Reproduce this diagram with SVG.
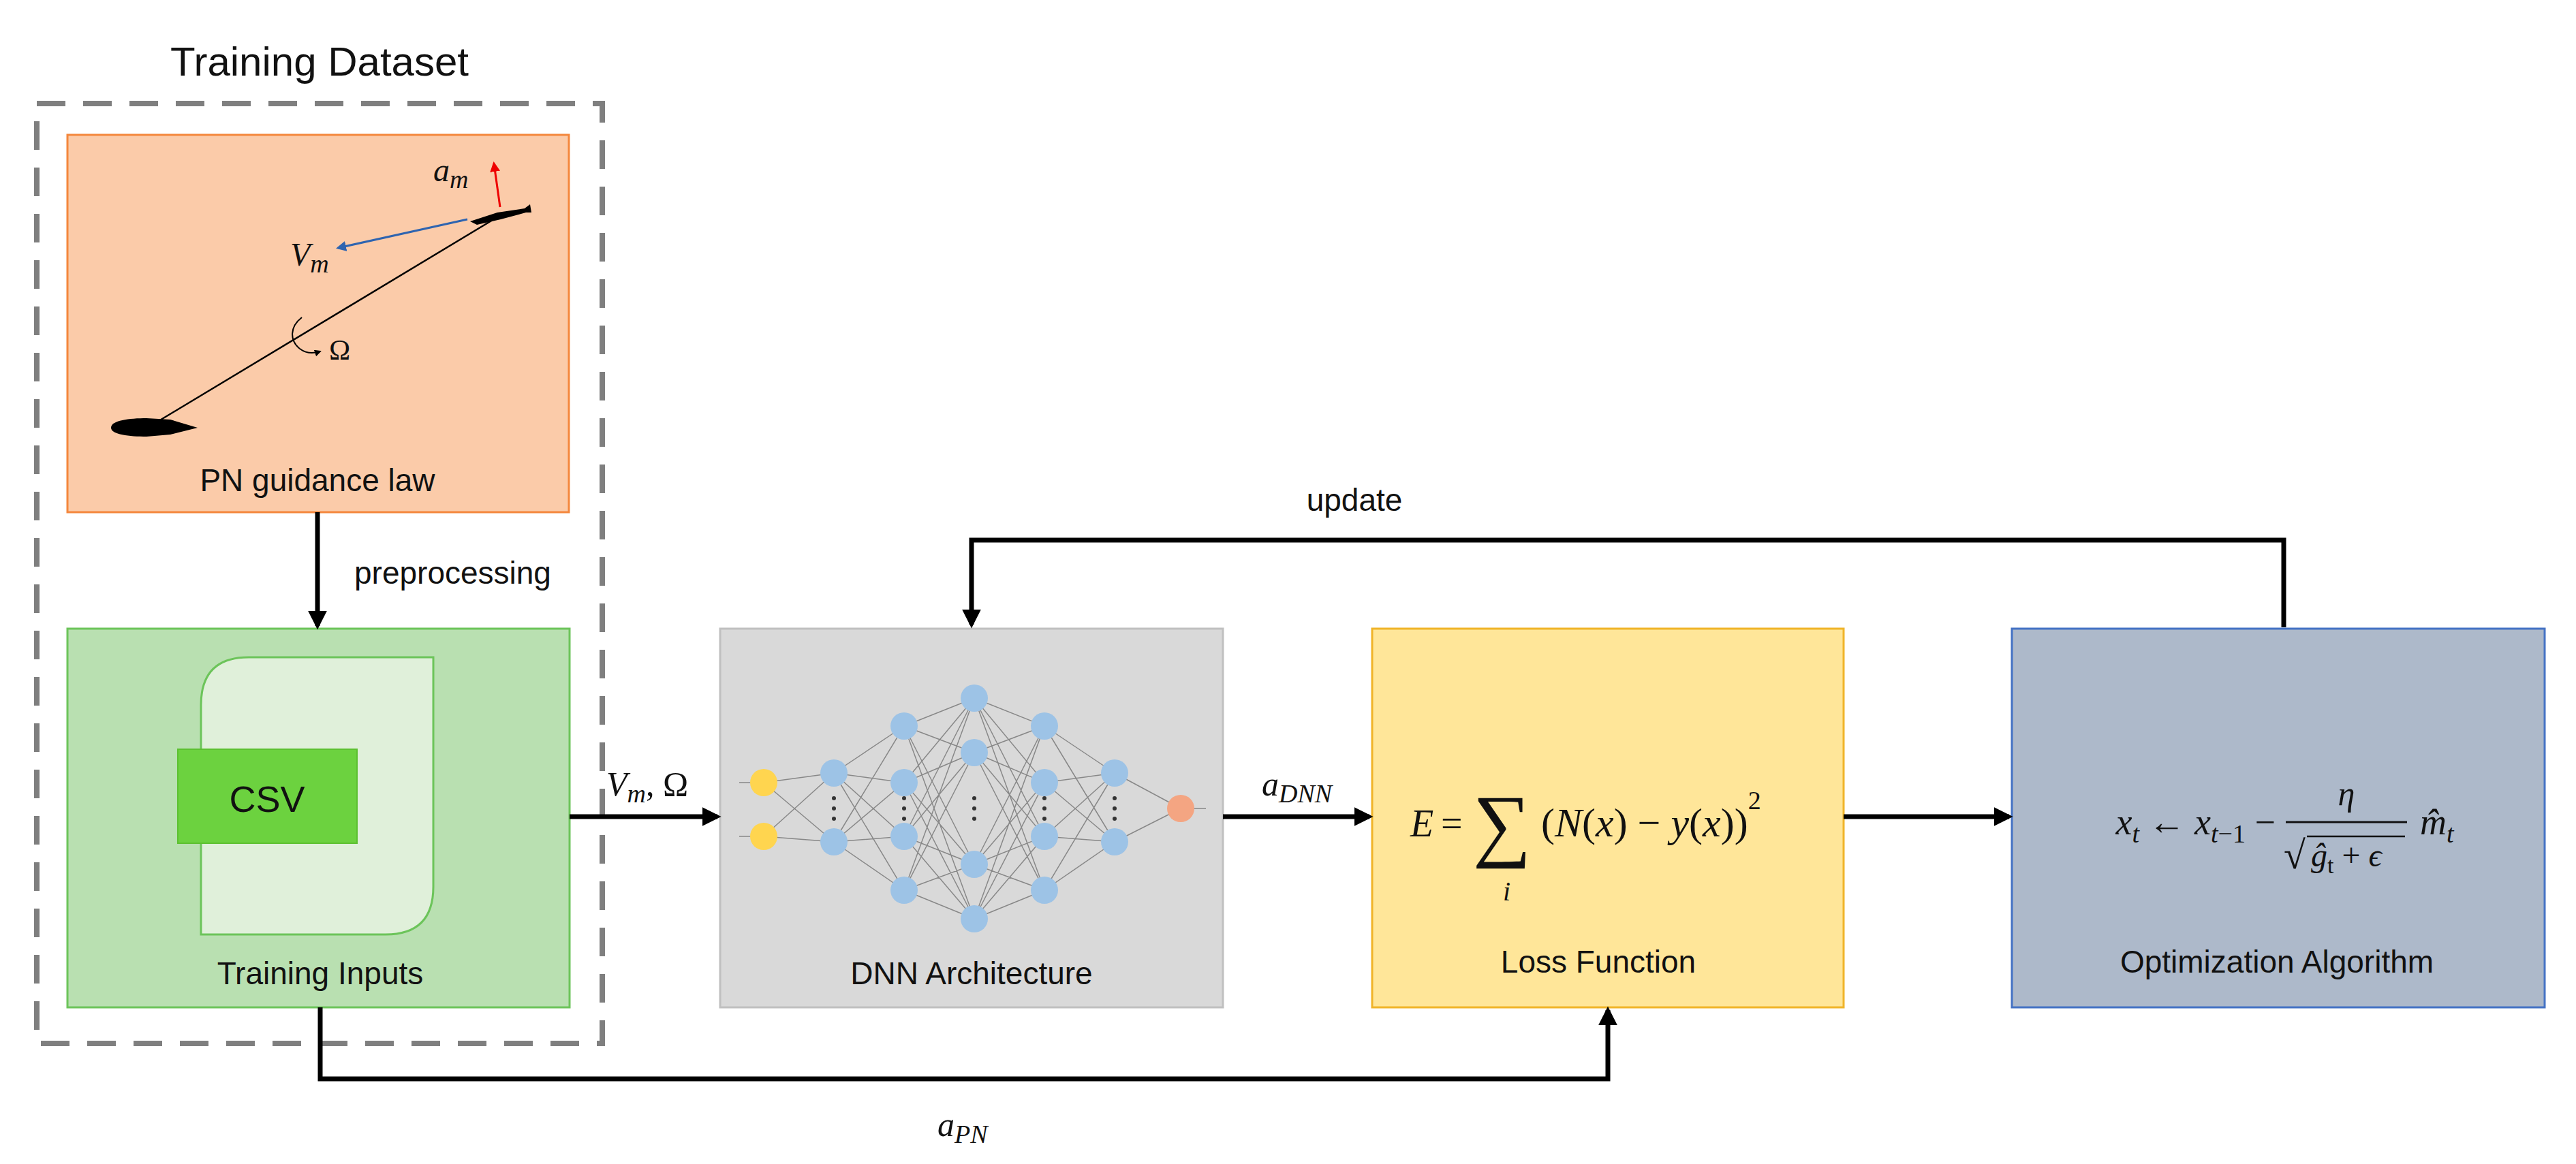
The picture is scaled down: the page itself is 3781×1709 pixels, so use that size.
<svg xmlns="http://www.w3.org/2000/svg" width="3781" height="1709" viewBox="0 0 3781 1709">
<style>
text{font-family:"Liberation Sans","Open Sans",sans-serif;fill:#111}
.lbl{font-size:50px;text-anchor:middle}
.m{font-family:"Liberation Serif",serif;font-style:italic}
.conn{stroke:#000;stroke-width:7;fill:none}
.nn{stroke:#888;stroke-width:1.5}
.b{fill:#9DC3E6}
</style>
<defs>
<marker id="ah" viewBox="0 0 10 10" refX="8" refY="5" markerWidth="4" markerHeight="4" orient="auto" markerUnits="strokeWidth"><path d="M0,0 L10,5 L0,10 z" fill="#000"/></marker>
<marker id="smr" viewBox="0 0 10 10" refX="8" refY="5" markerWidth="5" markerHeight="5" orient="auto"><path d="M0,0 L10,5 L0,10 z" fill="#E00"/></marker>
<marker id="smb" viewBox="0 0 10 10" refX="8" refY="5" markerWidth="5" markerHeight="5" orient="auto"><path d="M0,0 L10,5 L0,10 z" fill="#2E64B0"/></marker>
<marker id="smk" viewBox="0 0 10 10" refX="8" refY="5" markerWidth="5" markerHeight="5" orient="auto"><path d="M0,0 L10,5 L0,10 z" fill="#000"/></marker>
</defs>
<rect width="3781" height="1709" fill="#fff"/>

<g id="training-dataset">
<rect x="54" y="152" width="830" height="1380" fill="none" stroke="#7F7F7F" stroke-width="8" stroke-dasharray="42,26"/>
<text x="469" y="111" style="font-size:60px;text-anchor:middle">Training Dataset</text>
</g>

<g id="pn-guidance">
<rect x="99" y="198" width="736" height="554" fill="#FBCBA9" stroke="#F4873D" stroke-width="3"/>
<line x1="233" y1="618" x2="733" y2="317" stroke="#000" stroke-width="2.5"/>
<path d="M163,628 C163,617 190,614 215,614 L250,616 L290,628 L250,638 L215,641 C190,641 163,638 163,628 z" fill="#000"/>
<path d="M690,325 L730,312 L770,306 L778,300 L780,312 L772,312 L735,322 L700,330 z" fill="#000"/>
<line x1="686" y1="322" x2="496" y2="364" stroke="#2E64B0" stroke-width="3" marker-end="url(#smb)"/>
<line x1="734" y1="304" x2="725" y2="240" stroke="#E00" stroke-width="3" marker-end="url(#smr)"/>
<path d="M443,466 C425,480 425,500 440,512 C448,518 458,520 470,516" fill="none" stroke="#000" stroke-width="2" marker-end="url(#smk)"/>
<text x="636" y="266" class="m" style="font-size:48px">a<tspan dy="10" font-size="38">m</tspan></text>
<text x="426" y="390" class="m" style="font-size:48px">V<tspan dy="10" font-size="38">m</tspan></text>
<text x="483" y="528" style="font-family:'Liberation Serif',serif;font-size:42px">Ω</text>
<text x="466" y="721" class="lbl" style="font-size:46px">PN guidance law</text>
</g>

<g id="training-inputs">
<rect x="99" y="923" width="737" height="556" fill="#B9E0B1" stroke="#6CC45A" stroke-width="3"/>
<path d="M365,965 L636,965 L636,1302 Q636,1372 566,1372 L295,1372 L295,1035 Q295,965 365,965 z" fill="#E0F0DA" stroke="#6CC45A" stroke-width="3"/>
<rect x="261" y="1100" width="263" height="138" fill="#6CD23F" stroke="#5CC030" stroke-width="2"/>
<text x="392" y="1192" class="lbl" style="font-size:54px">CSV</text>
<text x="470" y="1445" class="lbl" style="font-size:46px">Training Inputs</text>
</g>

<g id="dnn">
<rect x="1057" y="923" width="738" height="556" fill="#D9D9D9" stroke="#C0C0C0" stroke-width="3"/>
<g class="nn">
<path d="M1121,1149 L1224,1135 M1121,1149 L1224,1236 M1121,1228 L1224,1135 M1121,1228 L1224,1236
M1224,1135 L1327,1066 M1224,1135 L1327,1149 M1224,1135 L1327,1228 M1224,1135 L1327,1307 M1224,1236 L1327,1066 M1224,1236 L1327,1149 M1224,1236 L1327,1228 M1224,1236 L1327,1307
M1327,1066 L1430,1025 M1327,1066 L1430,1105 M1327,1066 L1430,1269 M1327,1066 L1430,1349 M1327,1149 L1430,1025 M1327,1149 L1430,1105 M1327,1149 L1430,1269 M1327,1149 L1430,1349 M1327,1228 L1430,1025 M1327,1228 L1430,1105 M1327,1228 L1430,1269 M1327,1228 L1430,1349 M1327,1307 L1430,1025 M1327,1307 L1430,1105 M1327,1307 L1430,1269 M1327,1307 L1430,1349
M1533,1066 L1430,1025 M1533,1066 L1430,1105 M1533,1066 L1430,1269 M1533,1066 L1430,1349 M1533,1149 L1430,1025 M1533,1149 L1430,1105 M1533,1149 L1430,1269 M1533,1149 L1430,1349 M1533,1228 L1430,1025 M1533,1228 L1430,1105 M1533,1228 L1430,1269 M1533,1228 L1430,1349 M1533,1307 L1430,1025 M1533,1307 L1430,1105 M1533,1307 L1430,1269 M1533,1307 L1430,1349
M1636,1135 L1533,1066 M1636,1135 L1533,1149 M1636,1135 L1533,1228 M1636,1135 L1533,1307 M1636,1236 L1533,1066 M1636,1236 L1533,1149 M1636,1236 L1533,1228 M1636,1236 L1533,1307
M1636,1135 L1733,1187 M1636,1236 L1733,1187 M1085,1149 L1110,1149 M1085,1228 L1110,1228 M1745,1187 L1770,1187"/>
</g>
<g fill="#333">
<circle cx="1224" cy="1172" r="3"/><circle cx="1224" cy="1187" r="3"/><circle cx="1224" cy="1202" r="3"/>
<circle cx="1327" cy="1172" r="3"/><circle cx="1327" cy="1187" r="3"/><circle cx="1327" cy="1202" r="3"/>
<circle cx="1430" cy="1172" r="3"/><circle cx="1430" cy="1187" r="3"/><circle cx="1430" cy="1202" r="3"/>
<circle cx="1533" cy="1172" r="3"/><circle cx="1533" cy="1187" r="3"/><circle cx="1533" cy="1202" r="3"/>
<circle cx="1636" cy="1172" r="3"/><circle cx="1636" cy="1187" r="3"/><circle cx="1636" cy="1202" r="3"/>
</g>
<circle cx="1121" cy="1149" r="20" fill="#FFD54F"/><circle cx="1121" cy="1228" r="20" fill="#FFD54F"/>
<g class="b">
<circle cx="1224" cy="1135" r="20"/><circle cx="1224" cy="1236" r="20"/>
<circle cx="1327" cy="1066" r="20"/><circle cx="1327" cy="1149" r="20"/><circle cx="1327" cy="1228" r="20"/><circle cx="1327" cy="1307" r="20"/>
<circle cx="1430" cy="1025" r="20"/><circle cx="1430" cy="1105" r="20"/><circle cx="1430" cy="1269" r="20"/><circle cx="1430" cy="1349" r="20"/>
<circle cx="1533" cy="1066" r="20"/><circle cx="1533" cy="1149" r="20"/><circle cx="1533" cy="1228" r="20"/><circle cx="1533" cy="1307" r="20"/>
<circle cx="1636" cy="1135" r="20"/><circle cx="1636" cy="1236" r="20"/>
</g>
<circle cx="1733" cy="1187" r="20" fill="#F4A582"/>
<text x="1426" y="1445" class="lbl" style="font-size:46px">DNN Architecture</text>
</g>

<g id="loss">
<rect x="2014" y="923" width="692" height="556" fill="#FFE699" stroke="#F0B429" stroke-width="3"/>
<text x="2070" y="1228" class="m" style="font-size:56px">E</text>
<text x="2115" y="1228" style="font-family:'Liberation Serif',serif;font-size:56px">=</text>
<text x="2162" y="1250" style="font-family:'Liberation Serif',serif;font-size:120px">∑</text>
<text x="2206" y="1322" class="m" style="font-size:40px">i</text>
<text x="2262" y="1228" style="font-family:'Liberation Serif',serif;font-size:60px">(<tspan font-style="italic">N</tspan>(<tspan font-style="italic">x</tspan>)  −  <tspan font-style="italic">y</tspan>(<tspan font-style="italic">x</tspan>))<tspan dy="-40" font-size="38">2</tspan></text>
<text x="2346" y="1428" class="lbl" style="font-size:46px">Loss Function</text>
</g>

<g id="optimization">
<rect x="2953" y="923" width="782" height="556" fill="#ADB9CA" stroke="#4472C4" stroke-width="3"/>
<text x="3340" y="1225" style="font-family:'Liberation Serif',serif;font-size:54px;text-anchor:end"><tspan font-style="italic">x</tspan><tspan dy="12" font-size="38" font-style="italic">t</tspan><tspan dy="-12"> ← </tspan><tspan font-style="italic">x</tspan><tspan dy="12" font-size="38"><tspan font-style="italic">t</tspan>−1</tspan><tspan dy="-12"> −</tspan></text>
<line x1="3355" y1="1207" x2="3533" y2="1207" stroke="#111" stroke-width="3"/>
<text x="3444" y="1182" class="m" style="font-size:50px;text-anchor:middle">η</text>
<text x="3352" y="1275" style="font-family:'Liberation Serif',serif;font-size:58px">√</text>
<line x1="3386" y1="1228" x2="3530" y2="1228" stroke="#111" stroke-width="2.5"/>
<text x="3392" y="1272" style="font-family:'Liberation Serif',serif;font-size:48px"><tspan font-style="italic">ĝ</tspan><tspan dy="10" font-size="34">t</tspan><tspan dy="-10"> + </tspan><tspan font-style="italic">ϵ</tspan></text>
<text x="3552" y="1225" class="m" style="font-size:54px">m̂<tspan dy="12" font-size="38">t</tspan></text>
<text x="3342" y="1428" class="lbl" style="font-size:46px">Optimization Algorithm</text>
</g>

<g id="connectors">
<line class="conn" x1="466" y1="752" x2="466" y2="919" marker-end="url(#ah)"/>
<text x="520" y="857" style="font-size:46px">preprocessing</text>
<line class="conn" x1="836" y1="1199" x2="1053" y2="1199" marker-end="url(#ah)"/>
<text x="890" y="1168" class="m" style="font-size:50px">V<tspan dy="10" font-size="38">m</tspan><tspan dy="-10" font-style="normal">, Ω</tspan></text>
<line class="conn" x1="1795" y1="1199" x2="2010" y2="1199" marker-end="url(#ah)"/>
<text x="1852" y="1168" class="m" style="font-size:50px">a<tspan dy="10" font-size="38">DNN</tspan></text>
<line class="conn" x1="2706" y1="1199" x2="2949" y2="1199" marker-end="url(#ah)"/>
<path class="conn" d="M3352,921 L3352,793 L1426,793 L1426,917" marker-end="url(#ah)"/>
<text x="1988" y="750" class="lbl" style="font-size:46px">update</text>
<path class="conn" d="M470,1479 L470,1584 L2360,1584 L2360,1483" marker-end="url(#ah)"/>
<text x="1376" y="1668" class="m" style="font-size:50px">a<tspan dy="10" font-size="38">PN</tspan></text>
</g>
</svg>
